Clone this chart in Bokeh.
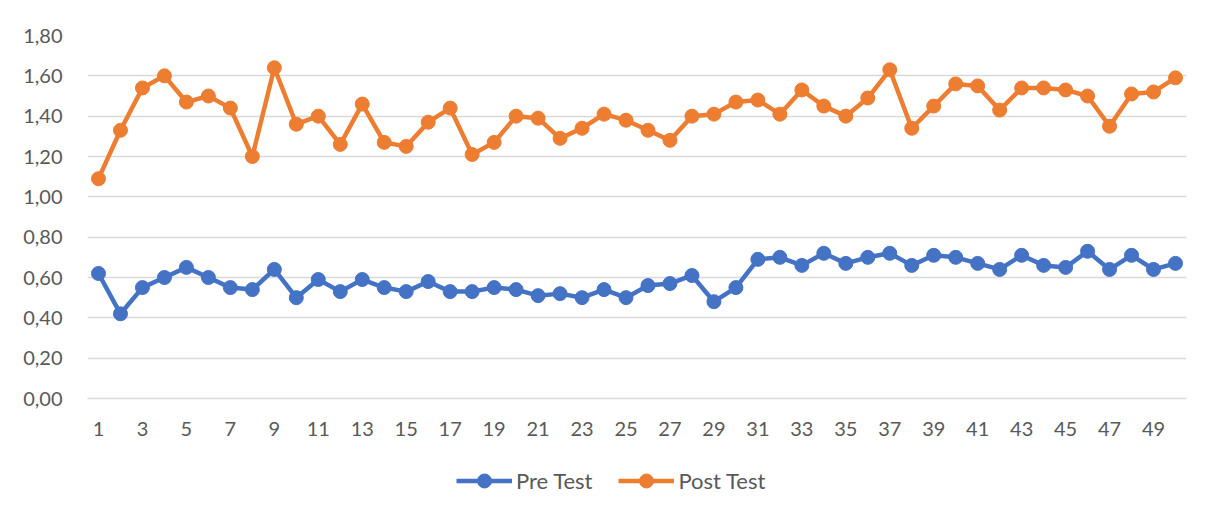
from bokeh.plotting import figure
from bokeh.models import Range1d, FixedTicker, CustomJSTickFormatter, Legend, LegendItem, ColumnDataSource
from bokeh.layouts import column
from bokeh.embed import file_html
from bokeh.resources import INLINE

categories = list(range(1, 51))
pre_test = [0.62, 0.42, 0.55, 0.60, 0.65, 0.60, 0.55, 0.54, 0.64, 0.50,
            0.59, 0.53, 0.59, 0.55, 0.53, 0.58, 0.53, 0.53, 0.55, 0.54,
            0.51, 0.52, 0.50, 0.54, 0.50, 0.56, 0.57, 0.61, 0.48, 0.55,
            0.69, 0.70, 0.66, 0.72, 0.67, 0.70, 0.72, 0.66, 0.71, 0.70,
            0.67, 0.64, 0.71, 0.66, 0.65, 0.73, 0.64, 0.71, 0.64, 0.67]
post_test = [1.09, 1.33, 1.54, 1.60, 1.47, 1.50, 1.44, 1.20, 1.64, 1.36,
             1.40, 1.26, 1.46, 1.27, 1.25, 1.37, 1.44, 1.21, 1.27, 1.40,
             1.39, 1.29, 1.34, 1.41, 1.38, 1.33, 1.28, 1.40, 1.41, 1.47,
             1.48, 1.41, 1.53, 1.45, 1.40, 1.49, 1.63, 1.34, 1.45, 1.56,
             1.55, 1.43, 1.54, 1.54, 1.53, 1.50, 1.35, 1.51, 1.52, 1.59]
x_ticks = list(range(1, 51, 2))
y_ticks = [0.0, 0.2, 0.4, 0.6, 0.8, 1.0, 1.2, 1.4, 1.6, 1.8]
series_names = ["Pre Test", "Post Test"]
colors = ["#4472C4", "#ED7D31"]

FONT = "Lato"
TEXT_COLOR = "#595959"
LINE_W = 4.5
MARK = 14

p = figure(width=1211, height=450, output_backend="svg", toolbar_location=None,
           x_range=Range1d(0.5, 50.5), y_range=Range1d(0, 1.8))
p.min_border_left = 87
p.min_border_right = 25
p.min_border_top = 35
p.min_border_bottom = 52
p.outline_line_color = None
p.background_fill_color = "white"
p.border_fill_color = "white"

p.xgrid.grid_line_color = None
p.ygrid.grid_line_color = "#d9d9d9"
p.ygrid.grid_line_width = 1.3
p.ygrid.ticker = FixedTicker(ticks=y_ticks)

p.xaxis.ticker = FixedTicker(ticks=x_ticks)
p.xaxis.axis_line_color = "#d9d9d9"
p.xaxis.axis_line_width = 1.3
p.yaxis.ticker = FixedTicker(ticks=y_ticks)
p.yaxis.formatter = CustomJSTickFormatter(code="return tick.toFixed(2).replace('.', ',');")
p.yaxis.axis_line_color = None
for ax in (p.xaxis, p.yaxis):
    ax.major_tick_line_color = None
    ax.minor_tick_line_color = None
    ax.major_label_text_font = FONT
    ax.major_label_text_font_size = "20px"
    ax.major_label_text_color = TEXT_COLOR
p.yaxis.major_label_standoff = 19
p.xaxis.major_label_standoff = 17

sources = []
for name, vals, col in zip(series_names, [pre_test, post_test], colors):
    src = ColumnDataSource(dict(x=categories, y=vals))
    sources.append(src)
    p.line("x", "y", source=src, line_color=col, line_width=LINE_W)
    p.scatter("x", "y", source=src, size=MARK, fill_color=col, line_color=col)

# legend strip below the chart (its renderers share the data but lie outside its view)
lg = figure(width=1211, height=67, output_backend="svg", toolbar_location=None,
            x_axis_location=None, y_axis_location=None,
            x_range=Range1d(0.5, 50.5), y_range=Range1d(100, 101))
lg.min_border_left = 0
lg.min_border_right = 0
lg.min_border_top = 0
lg.min_border_bottom = 0
lg.outline_line_color = None
lg.grid.visible = False
lg.border_fill_color = "white"

items = []
for name, src, col in zip(series_names, sources, colors):
    l = lg.line("x", "y", source=src, line_color=col, line_width=LINE_W)
    s = lg.scatter("x", "y", source=src, size=MARK, fill_color=col, line_color=col)
    items.append(LegendItem(label=name, renderers=[l, s]))

legend = Legend(items=items, orientation="horizontal", location=(369, 19),
                label_text_font=FONT, label_text_font_size="22px",
                label_text_color=TEXT_COLOR, glyph_width=56, glyph_height=35,
                spacing=26, label_standoff=4, border_line_color=None,
                background_fill_alpha=0, padding=4, margin=0)
lg.add_layout(legend, "center")

layout = column(p, lg, spacing=0)
open("out.html", "w").write(file_html(layout, INLINE))
